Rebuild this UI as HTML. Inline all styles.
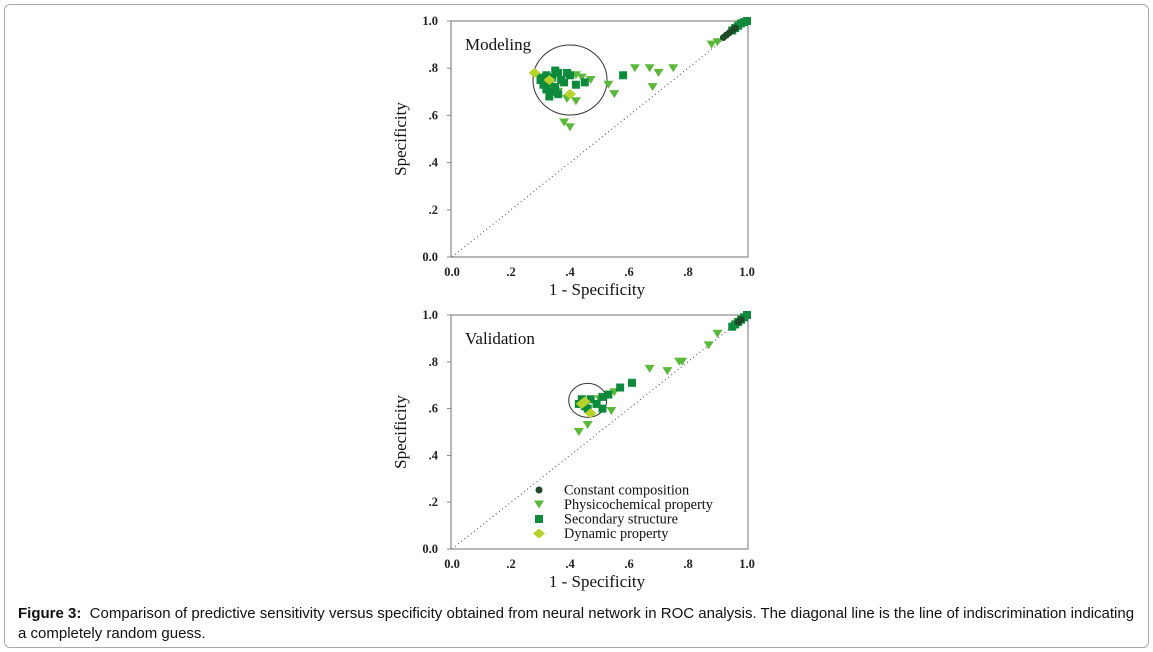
<!DOCTYPE html>
<html><head><meta charset="utf-8"><style>
body{margin:0;background:#fff;width:1153px;height:652px;overflow:hidden;font-family:"Liberation Sans",sans-serif}
#frame{position:absolute;left:4px;top:4px;width:1143px;height:642px;border:1px solid #a9a9a9;border-radius:6px}
#cap{position:absolute;left:18px;top:604px;width:1122px;font-size:15px;line-height:20px;color:#111}
svg{position:absolute;left:0;top:0}
</style></head><body>
<div id="frame"></div>
<svg id="s" width="1153" height="652"></svg>
<div id="cap"><b>Figure 3:</b>&nbsp; Comparison of predictive sensitivity versus specificity obtained from neural network in ROC analysis. The diagonal line is the line of indiscrimination indicating a completely random guess.</div>
<script>
const ticks=[0,0.2,0.4,0.6,0.8,1.0];
const tickLabels=["0.0",".2",".4",".6",".8","1.0"];
const yTickLabels=["0.0",".2",".4",".6",".8","1.0"];
const seriesNames=["Constant composition","Physicochemical property","Secondary structure","Dynamic property"];
// modeling
const mConstX=[0.92,0.93,0.94,0.95,0.96];
const mConstY=[0.93,0.94,0.95,0.96,0.97];
const mTriX=[0.42,0.44,0.47,0.53,0.55,0.62,0.67,0.70,0.75,0.68,0.38,0.40,0.88,0.90,0.39,0.42,0.33,0.36];
const mTriY=[0.77,0.76,0.75,0.73,0.69,0.80,0.80,0.78,0.80,0.72,0.57,0.55,0.90,0.91,0.67,0.66,0.72,0.70];
const mSqX=[0.30,0.31,0.32,0.33,0.34,0.35,0.36,0.37,0.32,0.34,0.38,0.40,0.42,0.45,0.36,0.33,0.58,0.30,0.35,0.39,0.96,0.97,0.98,0.99,1.0,0.95];
const mSqY=[0.75,0.73,0.77,0.74,0.76,0.72,0.78,0.75,0.71,0.70,0.74,0.77,0.73,0.74,0.69,0.68,0.77,0.76,0.79,0.78,0.97,0.98,0.99,0.995,1.0,0.96];
const mDiaX=[0.28,0.33,0.40];
const mDiaY=[0.78,0.75,0.69];
// validation
const vConstX=[0.97,0.98];
const vConstY=[0.97,0.98];
const vTriX=[0.67,0.73,0.77,0.78,0.87,0.90,0.54,0.46,0.43,0.50,0.55];
const vTriY=[0.77,0.76,0.80,0.80,0.87,0.92,0.59,0.53,0.50,0.64,0.67];
const vSqX=[0.61,0.57,0.53,0.51,0.51,0.43,0.45,0.47,0.49,0.44,0.46,0.95,0.96,0.97,0.98,0.99,1.0];
const vSqY=[0.71,0.69,0.66,0.65,0.60,0.62,0.61,0.64,0.62,0.64,0.60,0.95,0.96,0.97,0.98,0.99,1.0];
const vDiaX=[0.45,0.47,0.44];
const vDiaY=[0.63,0.58,0.62];

const S=document.getElementById('s'),NS='http://www.w3.org/2000/svg';
function el(t,a,p){const e=document.createElementNS(NS,t);for(const k in a)e.setAttribute(k,a[k]);(p||S).appendChild(e);return e;}
const col={c:'#1f4a28',t:'#5cb83c',s:'#0e8a3c',d:'#b8d22c'};
function mark(g,type,cx,cy){let e;
 if(type==='c')e=el('circle',{cx:cx,cy:cy,r:3.5,fill:col.c},g);
 else if(type==='t')e=el('polygon',{points:`${cx-5},${cy-4} ${cx+5},${cy-4} ${cx},${cy+4}`,fill:col.t},g);
 else if(type==='s')e=el('rect',{x:cx-4,y:cy-4,width:8,height:8,fill:col.s},g);
 else e=el('polygon',{points:`${cx},${cy-5} ${cx+6},${cy} ${cx},${cy+5} ${cx-6},${cy}`,fill:col.d},g);
 return e;}
function chart(top,bottom,title,tri,sq,dia,con,circ,legend){
 const x0=452,x1=747;
 const X=v=>x0+v*(x1-x0),Y=v=>bottom-v*(bottom-top);
 const g=el('g',{});
 
 
 const f=el('rect',{x:x0-1,y:top,width:x1-x0+2,height:bottom-top,fill:'none',stroke:'#888','stroke-width':1.2},g);
 
 const d=el('line',{x1:X(0),y1:Y(0),x2:X(1),y2:Y(1),stroke:'#444','stroke-width':1,'stroke-dasharray':'1 3'},g);
 
 ticks.forEach((t,i)=>{
  el('line',{x1:x0-5,x2:x0-1,y1:Y(t),y2:Y(t),stroke:'#888'},g);
  const yl=el('text',{x:438,y:Y(t)+4,'text-anchor':'end','font-family':'Liberation Serif,serif','font-size':12.5,'font-weight':'bold',fill:'#222'},g);
  yl.textContent=yTickLabels[i];
  const xl=el('text',{x:X(t),y:bottom+19,'text-anchor':'middle','font-family':'Liberation Serif,serif','font-size':12.5,'font-weight':'bold',fill:'#222'},g);
  xl.textContent=tickLabels[i];
 });
 const yt=el('text',{x:0,y:0,transform:`translate(406,${(top+bottom)/2}) rotate(-90)`,'text-anchor':'middle','font-family':'Liberation Serif,serif','font-size':17,fill:'#111'},g);
 yt.textContent='Specificity';
 const xt=el('text',{x:597,y:bottom+38,'text-anchor':'middle','font-family':'Liberation Serif,serif','font-size':17,fill:'#111'},g);
 xt.textContent='1 - Specificity';
 const tt=el('text',{x:465,y:top+29,'font-family':'Liberation Serif,serif','font-size':17,fill:'#111'},g);
 tt.textContent=title;
 const c=el('ellipse',{cx:X(circ[0]),cy:Y(circ[1]),rx:circ[2],ry:circ[3],fill:'none',stroke:'#333','stroke-width':1},g);
 
 tri[0].forEach((v,i)=>{const m=mark(g,'t',X(v),Y(tri[1][i]));});
 sq[0].forEach((v,i)=>{const m=mark(g,'s',X(v),Y(sq[1][i]));});
 dia[0].forEach((v,i)=>{const m=mark(g,'d',X(v),Y(dia[1][i]));});
 con[0].forEach((v,i)=>{const m=mark(g,'c',X(v),Y(con[1][i]));});
 if(legend){const types=['c','t','s','d'];
  types.forEach((t,i)=>{const yy=490+i*14.5;
   const m=mark(g,t,539,yy);
   const lt=el('text',{x:564,y:yy+4.5,'font-family':'Liberation Serif,serif','font-size':14.3,fill:'#111'},g);
   lt.textContent=seriesNames[i];});}
}
chart(21,257,'Modeling',[mTriX,mTriY],[mSqX,mSqY],[mDiaX,mDiaY],[mConstX,mConstY],[0.40,0.75,37,35],false);
chart(315,549,'Validation',[vTriX,vTriY],[vSqX,vSqY],[vDiaX,vDiaY],[vConstX,vConstY],[0.46,0.635,19,17],true);
</script>
</body></html>
